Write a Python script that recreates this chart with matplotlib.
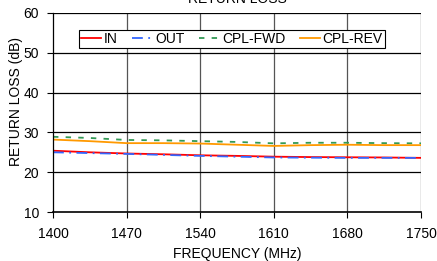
import matplotlib
matplotlib.use('Agg')
import matplotlib.pyplot as plt

plt.rcParams['font.family'] = ['Liberation Sans', 'DejaVu Sans']

# 频率与回波损耗
FREQ = [1400, 1435, 1470, 1505, 1540, 1575, 1610, 1645, 1680, 1715, 1750]
RL_IN = [25.4, 25.0, 24.7, 24.5, 24.25, 24.1, 23.9, 23.8, 23.75, 23.7, 23.6]
RL_OUT = [25.0, 24.8, 24.6, 24.35, 24.1, 23.9, 23.7, 23.65, 23.6, 23.6, 23.6]
RL_FWD = [28.9, 28.6, 28.1, 28.0, 27.8, 27.6, 27.25, 27.4, 27.4, 27.3, 27.25]
RL_REV = [28.2, 27.8, 27.3, 27.3, 27.2, 26.9, 26.6, 26.8, 26.9, 26.8, 26.8]
X_TICKS = [1400, 1470, 1540, 1610, 1680, 1750]
Y_TICKS = [10, 20, 30, 40, 50, 60]

fig = plt.figure(figsize=(4.37, 2.61), dpi=100)
ax = fig.add_axes([53 / 437, 1 - 212 / 261, 368 / 437, 199 / 261])

ax.plot(FREQ, RL_IN, color='#FF0000', lw=1.3, label='IN')
ax.plot(FREQ, RL_OUT, color='#3366FF', lw=1.3, ls=(0, (6, 3, 1, 3)), label='OUT')
ax.plot(FREQ, RL_FWD, color='#339955', lw=1.3, ls=(0, (3, 4)), label='CPL-FWD')
ax.plot(FREQ, RL_REV, color='#FF9900', lw=1.3, label='CPL-REV')

ax.set_xlim(1400, 1750)
ax.set_ylim(10, 60)
ax.set_xticks(X_TICKS)
ax.set_yticks(Y_TICKS)
ax.tick_params(labelsize=10, length=4, width=0.8, direction='out')
ax.tick_params(axis='x', pad=7)
ax.tick_params(axis='y', pad=6)
for x in X_TICKS[1:]:
    ax.axvline(x, color='#555555', lw=0.9, zorder=0)
for y in Y_TICKS[1:]:
    ax.axhline(y, color='black', lw=0.9, zorder=0)
for s in ['top', 'right']:
    ax.spines[s].set_visible(False)
ax.spines['left'].set_linewidth(0.9)
ax.spines['bottom'].set_linewidth(1.2)

ax.set_xlabel('FREQUENCY (MHz)', fontsize=10, labelpad=4)
ax.set_ylabel('RETURN LOSS (dB)', fontsize=10)
ax.yaxis.set_label_coords(-0.082, 0.555)
ax.set_title('RETURN LOSS', fontsize=10, pad=7)

leg = ax.legend(loc='upper center', bbox_to_anchor=(0.486, 0.915), ncol=4,
                fontsize=10, frameon=True, fancybox=False, handlelength=1.45,
                handletextpad=0.2, columnspacing=1.05, borderpad=0.15,
                borderaxespad=0)
leg.get_frame().set_edgecolor('black')
leg.get_frame().set_linewidth(0.8)
leg.get_frame().set_alpha(1)

fig.savefig('out.png', dpi=100)
